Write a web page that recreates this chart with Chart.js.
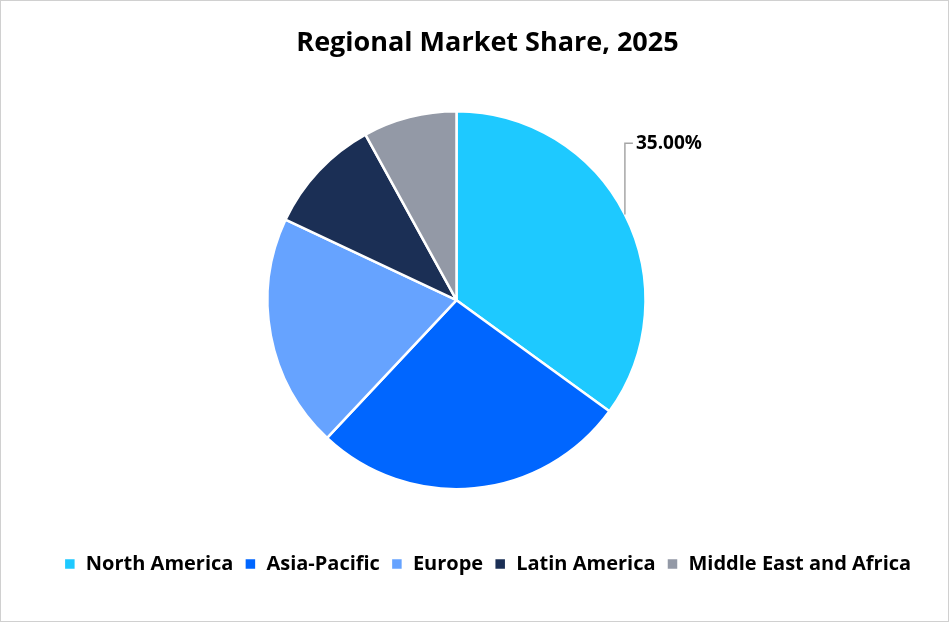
<!DOCTYPE html>
<html><head><script src="https://cdn.jsdelivr.net/npm/chart.js"></script>
<style>body{margin:0;background:#fff}#w{position:absolute;left:0;top:0;width:947px;height:620px;border:1px solid #d0d0d0}</style></head>
<body><div id="w"><canvas id="c"></canvas></div>
<script>
const categories=["North America","Asia-Pacific","Europe","Latin America","Middle East and Africa"];
const values=[35,27,20,10,8];
const colors=["#1EC9FF","#0066FF","#66A3FF","#1B2F55","#9399A6"];
const shiftAndLeader={id:'shiftAndLeader',
 beforeDatasetsDraw(ch){ch.ctx.save();ch.ctx.translate(-31,-1);},
 afterDatasetsDraw(ch){
 const a=ch.getDatasetMeta(0).data[0];const ctx=ch.ctx;
 const m=(a.startAngle+a.endAngle)/2;
 const x0=a.x+Math.cos(m)*a.outerRadius,y0=a.y+Math.sin(m)*a.outerRadius;
 const yt=a.y-157;
 ctx.strokeStyle='#a6a6a6';ctx.lineWidth=1.5;ctx.beginPath();
 ctx.moveTo(x0,y0);ctx.lineTo(x0,yt);ctx.lineTo(x0+8,yt);ctx.stroke();
 ctx.fillStyle='#000';ctx.font='bold 19px "Open Sans"';ctx.textBaseline='middle';
 ctx.fillText(values[0].toFixed(2)+'%',x0+11,yt);ctx.restore();}};
new Chart(document.getElementById('c'),{type:'pie',
 data:{labels:categories,datasets:[{data:values,backgroundColor:colors,borderColor:'#fff',borderWidth:2.5,radius:189}]},
 options:{responsive:true,maintainAspectRatio:false,animation:false,
  layout:{padding:{top:0,bottom:37,left:36,right:10}},
  plugins:{title:{display:true,text:'Regional Market Share, 2025',color:'#000',font:{family:'Open Sans',size:27,weight:'bold'},padding:{top:26,bottom:0}},
   legend:{position:'bottom',labels:{color:'#000',font:{family:'Open Sans',size:20,weight:'bold'},boxWidth:12,boxHeight:12,padding:11}},
   tooltip:{enabled:false}}},
 plugins:[shiftAndLeader]});
</script></body></html>
